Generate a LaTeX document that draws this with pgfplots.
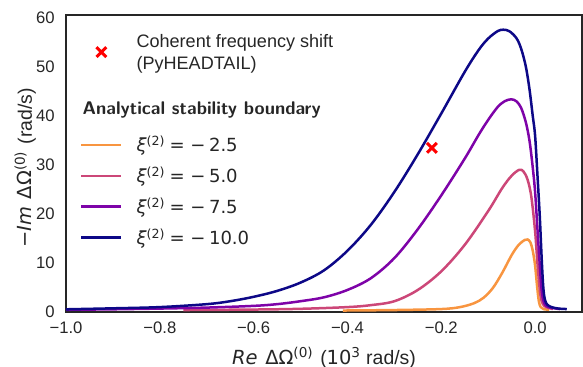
\documentclass[border=0pt]{standalone}
\usepackage{fontspec}
\setmainfont{Liberation Sans}
\newfontfamily\dv{DejaVu Sans}
\usepackage{pgfplots}
\pgfplotsset{compat=1.18}
\definecolor{cOr}{HTML}{F89540}
\definecolor{cPk}{HTML}{CC4778}
\definecolor{cPu}{HTML}{7E03A8}
\definecolor{cBl}{HTML}{0D0887}
\definecolor{txt}{HTML}{262626}
\pgfplotsset{crossleg/.style={legend image code/.code={\draw[##1] plot coordinates {(14.4bp,0bp)};}}}
\newcommand{\lfont}{\fontsize{13bp}{15.84bp}\selectfont}
\newcommand{\estrut}{\rule[-6.45bp]{0pt}{22.3bp}}
\newcommand{\xientry}[1]{\estrut{\dv{\itshape ξ}\textsuperscript{(2)}\hspace{0.25em}=\hspace{0.3em}−\hspace{0.2em}#1}}
\begin{document}
\begin{tikzpicture}
\begin{axis}[
  width=371.52bp, height=213.84bp, scale only axis,
  xmin=-1, xmax=0.1, ymin=0, ymax=60.6,
  xtick={-1,-0.8,-0.6,-0.4,-0.2,0},
  xticklabels={−1.0,−0.8,−0.6,−0.4,−0.2,0.0},
  ytick={0,10,20,30,40,50,60},
  yticklabels={0,10,20,30,40,50,60},
  major tick length=0pt,
  tick label style={font=\fontsize{12bp}{14bp}\selectfont, text=txt},
  xticklabel style={anchor=north, inner sep=0pt, yshift=-7.2bp},
  yticklabel style={anchor=east, inner sep=0pt, xshift=-8bp},
  axis line style={draw=txt, line width=1bp},
  every axis x label/.style={at={(axis description cs:0.5,-0.1763)}, anchor=base, inner sep=0pt},
  every axis y label/.style={at={(axis description cs:-0.0659,0.485)}, rotate=90, anchor=base, inner sep=0pt},
  label style={font=\fontsize{14bp}{16.5bp}\selectfont, text=txt},
  xlabel={{\dv\itshape Re}\hspace{0.4em}{\dv ΔΩ\textsuperscript{(0)}}\hspace{0.35em}({\dv 10\textsuperscript{3}} rad/s)},
  ylabel={{\dv −{\itshape Im}}\hspace{0.4em}{\dv ΔΩ\textsuperscript{(0)}}\hspace{0.35em}(rad/s)},
  legend style={at={(0,1)}, anchor=north west, xshift=10.2bp, yshift=-1bp, draw=none, fill=none,
    inner sep=0pt, outer sep=0pt, row sep=0pt, column sep=10bp,
    cells={anchor=west},
    nodes={inner sep=0pt, text depth=, font=\lfont, text=txt}},
  legend image code/.code={\draw[#1] (0bp,0bp) -- (28.8bp,0bp);},
  every axis plot/.append style={line width=1.8bp, smooth, tension=0.55},
]
\addlegendimage{red, only marks, mark=x, mark size=5bp, mark options={line width=2.2bp}, crossleg}
\addlegendentry{\rule[-28.97bp]{0pt}{51.4bp}\begin{tabular}[t]{@{}l@{}}Coherent frequency shift\\(PyHEADTAIL)\end{tabular}}
\addlegendimage{empty legend}
\addlegendentry{\rule[-10.75bp]{0pt}{29.9bp}\hspace*{-38.8bp}{\fontsize{13.2bp}{15bp}\selectfont\sffamily\bfseries Analytical stability boundary}}

\addplot[cOr] coordinates {
(-0.41,0.3) (-0.3,0.4) (-0.2,0.6) (-0.16,1.0) (-0.13,1.8) (-0.11,2.9) (-0.09,4.9) (-0.07,8.0)
(-0.05,11.6) (-0.035,13.7) (-0.022,14.7) (-0.016,14.8) (-0.01,14.2) (-0.005,12.5) (0.0,9.5)
(0.004,5.5) (0.008,2.2) (0.012,1.0) (0.018,0.6) (0.03,0.45)
};
\addlegendentry{\xientry{2.5}}

\addplot[cPk] coordinates {
(-0.75,0.4) (-0.6,0.5) (-0.5,0.65) (-0.4,1.0) (-0.35,1.4) (-0.3,2.2) (-0.25,4.5) (-0.2,8.3)
(-0.15,13.7) (-0.1,20.6) (-0.07,25.3) (-0.05,27.8) (-0.034,29.0) (-0.025,28.7) (-0.016,27.0)
(-0.008,23.5) (0.0,16.5) (0.005,10.0) (0.01,4.5) (0.014,2.2) (0.02,1.2) (0.03,0.8) (0.038,0.6)
};
\addlegendentry{\xientry{5.0}}

\addplot[cPu] coordinates {
(-1.0,0.45) (-0.9,0.55) (-0.8,0.7) (-0.7,0.9) (-0.6,1.25) (-0.55,1.6) (-0.5,2.2) (-0.45,3.0)
(-0.4,4.5) (-0.35,6.9) (-0.3,11.0) (-0.25,16.9) (-0.2,23.8) (-0.15,31.3) (-0.12,36.2)
(-0.1,39.2) (-0.08,41.8) (-0.065,43.0) (-0.051,43.4) (-0.04,43.0) (-0.03,41.7) (-0.02,38.8)
(-0.012,35.0) (-0.005,29.5) (0.0,24.5) (0.005,17.0) (0.01,9.5) (0.014,4.5) (0.018,2.2)
(0.023,1.3) (0.032,0.9) (0.053,0.6)
};
\addlegendentry{\xientry{7.5}}

\addplot[cBl] coordinates {
(-1.0,0.55) (-0.9,0.75) (-0.8,1.0) (-0.7,1.6) (-0.65,2.2) (-0.6,3.1) (-0.55,4.3) (-0.5,6.0)
(-0.45,8.5) (-0.4,12.5) (-0.35,17.8) (-0.3,24.5) (-0.25,32.2) (-0.2,40.5) (-0.15,49.0)
(-0.12,53.5) (-0.1,55.8) (-0.08,57.3) (-0.068,57.6) (-0.055,57.3) (-0.04,55.9) (-0.03,53.8)
(-0.02,50.2) (-0.012,45.5) (-0.005,40.0) (0.0,36.0) (0.005,28.0) (0.01,19.5) (0.014,11.0)
(0.0175,5.0) (0.021,2.5) (0.026,1.5) (0.035,1.0) (0.05,0.7) (0.0675,0.6)
};
\addlegendentry{\xientry{10.0}}

\addplot[red, only marks, mark=x, mark size=5bp, mark options={line width=2.2bp}, forget plot] coordinates {(-0.220,33.5)};
\end{axis}
\pgfresetboundingbox
\path[use as bounding box] (-47.52bp,-39.6bp) rectangle (372.24bp,224.64bp);
\end{tikzpicture}
\end{document}
